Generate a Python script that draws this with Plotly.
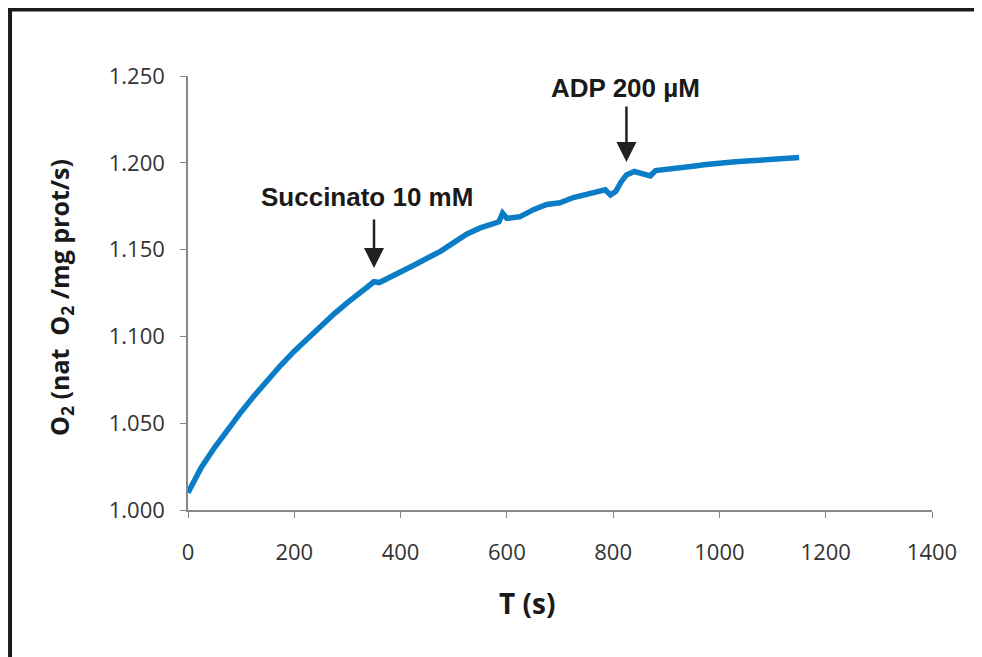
import plotly.graph_objects as go

# Time (s)
t = [0, 10, 25, 50, 75, 100, 125, 150, 175, 200, 225, 250, 275, 300, 325, 350, 360,
     375, 400, 425, 450, 475, 500, 525, 550, 575, 585, 592, 600, 625, 650, 675, 700,
     725, 750, 775, 785, 795, 805, 815, 825, 840, 855, 870, 880, 900, 925, 950, 975,
     1000, 1025, 1050, 1075, 1100, 1125, 1150]
# O2 consumption (nat O2 / mg prot / s)
o2 = [1.010, 1.0165, 1.0245, 1.036, 1.0465, 1.0565, 1.066, 1.075, 1.0835, 1.0915,
      1.099, 1.106, 1.113, 1.1195, 1.1255, 1.1315, 1.1310, 1.1335, 1.137, 1.141,
      1.145, 1.149, 1.154, 1.159, 1.1625, 1.165, 1.166, 1.171, 1.168, 1.169, 1.173,
      1.176, 1.177, 1.180, 1.182, 1.184, 1.1845, 1.1815, 1.1835, 1.189, 1.193, 1.195,
      1.194, 1.1925, 1.1955, 1.196, 1.197, 1.198, 1.199, 1.200, 1.2005, 1.201,
      1.2015, 1.202, 1.2025, 1.203]

x_ticks = [0, 200, 400, 600, 800, 1000, 1200, 1400]
y_ticks = [1.000, 1.050, 1.100, 1.150, 1.200, 1.250]
y_tick_labels = ["1.000", "1.050", "1.100", "1.150", "1.200", "1.250"]

# Event annotations
events = ["Succinato 10 mM", "ADP 200 µM"]
event_tip_x = [350, 825]
event_tip_y = [1.1394, 1.2005]
event_label_x = [337, 823]
event_label_y = [1.1803, 1.2431]
event_arrow_len = [-50, -57]

x_title = "T (s)"
y_title = "O<sub>2</sub> (nat  O<sub>2</sub> /mg prot/s)"

fig = go.Figure()
fig.add_trace(go.Scatter(
    x=t, y=o2, mode="lines",
    line=dict(color="#0A7DC6", width=5.5),
    hoverinfo="x+y", showlegend=False,
))

for lab, tx, ty, lx, ly, al in zip(events, event_tip_x, event_tip_y,
                                   event_label_x, event_label_y, event_arrow_len):
    fig.add_annotation(x=tx, y=ty, xref="x", yref="y", text="", showarrow=True,
                       ax=0, ay=al, arrowhead=2, arrowsize=1.6, arrowwidth=2.5,
                       arrowcolor="#222222", standoff=0)
    fig.add_annotation(x=lx, y=ly, xref="x", yref="y", text="<b>%s</b>" % lab,
                       showarrow=False, xanchor="center", yanchor="middle",
                       font=dict(family="Liberation Sans, Arial", size=26, color="#1a1a1a"))

# axis titles
fig.add_annotation(x=0.455, y=-0.2143, xref="paper", yref="paper",
                   xanchor="center", yanchor="middle",
                   text="<b>%s</b>" % x_title, showarrow=False,
                   font=dict(family="Open Sans, Liberation Sans", size=28, color="#1a1a1a"))
fig.add_annotation(x=-0.1707, y=0.491, xref="paper", yref="paper", textangle=-90,
                   xanchor="center", yanchor="middle",
                   text="<b>%s</b>" % y_title, showarrow=False,
                   font=dict(family="Open Sans, Liberation Sans", size=25, color="#1a1a1a"))

# figure border (top and left visible)
fig.add_shape(type="line", xref="paper", yref="paper", x0=-0.245, x1=1.1,
              y0=1.1532, y1=1.1532, line=dict(color="#1a1a1a", width=4))
fig.add_shape(type="line", xref="paper", yref="paper", x0=-0.2392, x1=-0.2392,
              y0=1.158, y1=-0.36, line=dict(color="#1a1a1a", width=4))

tick_font = dict(family="Open Sans, Liberation Sans", size=22, color="#333333")
fig.update_layout(
    width=982, height=657,
    margin=dict(l=180, r=58, t=68, b=155),
    paper_bgcolor="white", plot_bgcolor="white",
    xaxis=dict(range=[0, 1400], tickvals=x_ticks, ticks="outside", ticklen=6,
               tickcolor="#888888", showline=True, linecolor="#888888", linewidth=1.5,
               showgrid=False, zeroline=False, tickfont=tick_font,
               ticklabelstandoff=16),
    yaxis=dict(range=[1.0, 1.25], tickvals=y_ticks, ticktext=y_tick_labels,
               ticks="outside", ticklen=6, tickcolor="#888888", showline=True,
               linecolor="#888888", linewidth=1.5, showgrid=False, zeroline=False,
               tickfont=tick_font, ticklabelstandoff=11),
)

fig.write_html("out.html")
